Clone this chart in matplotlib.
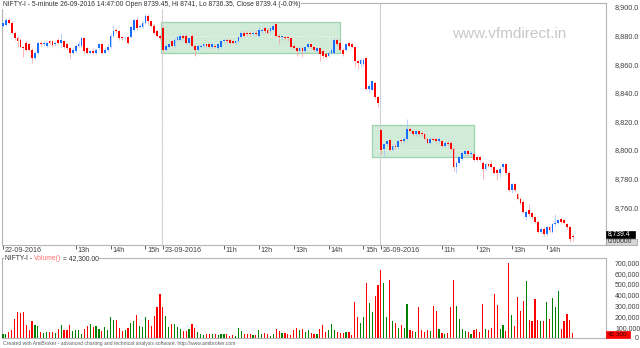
import matplotlib
matplotlib.use("Agg")
import matplotlib.pyplot as plt
from matplotlib.patches import Rectangle
import numpy as np
import pandas as pd

plt.rcParams["font.family"] = ["Liberation Sans", "DejaVu Sans"]

W, H, DPI = 640, 348, 100
BLUE, RED = "#1a6cff", "#ff0000"
WICK_UP, WICK_DN = "#9cbfff", "#ff9a9a"
VOL_UP, VOL_DN = "#008000", "#ff0000"
FRAME = "#b4b4b4"
TXT = "#404040"

# trading sessions: date, first bar, last bar (5-minute bars)
sessions = [("2016-09-22", "10:55", "15:25"),
            ("2016-09-23", "09:15", "15:25"),
            ("2016-09-26", "09:15", "14:45")]

opens = [
    8887, 8887.5, 8891, 8889, 8882, 8878, 8877, 8872, 8875, 8874, 8870, 8864, 8868, 8875, 8874, 8873, 8876, 8876, 8874,
    8877, 8875, 8876, 8874, 8871, 8868, 8869, 8873, 8873, 8878, 8871, 8868, 8869, 8868, 8871, 8874, 8868, 8870, 8872,
    8880, 8884, 8883, 8879, 8878, 8879, 8879, 8884, 8891, 8886, 8886, 8889, 8894, 8890, 8887, 8883, 8880,
    8885, 8870, 8872, 8876, 8873, 8877, 8877, 8880, 8880, 8875, 8880, 8873, 8870, 8872, 8873, 8874, 8874, 8872, 8873,
    8871, 8872, 8876, 8877, 8877, 8876, 8875, 8876, 8879, 8882, 8882, 8882, 8881, 8882, 8880, 8883, 8885, 8884, 8883,
    8884, 8888, 8880, 8879, 8879, 8879, 8878, 8873, 8871, 8869, 8871, 8869, 8872, 8874, 8872, 8869, 8871, 8869, 8867,
    8866, 8868, 8868, 8877, 8875, 8870, 8870, 8875, 8874, 8872, 8862, 8860, 8860, 8864, 8843, 8842, 8847, 8837,
    8814, 8801, 8804, 8807, 8800, 8803, 8802, 8807, 8806, 8808, 8815, 8813, 8811, 8813, 8812, 8811, 8808, 8805, 8808,
    8808, 8806, 8806, 8803, 8805, 8805, 8801, 8788, 8791, 8794, 8797, 8799, 8797, 8797, 8795, 8795, 8791, 8787, 8790,
    8790, 8788, 8786, 8784, 8788, 8790, 8784, 8772, 8776, 8769, 8766, 8764, 8753, 8758, 8756, 8753, 8750, 8743, 8745,
    8741, 8746, 8743, 8748, 8749, 8752, 8751, 8748, 8746, 8739.45,
]
highs = [
    8889, 8892, 8892, 8890, 8883, 8880, 8878, 8873, 8876, 8875, 8871, 8869, 8876, 8876, 8876, 8876, 8877, 8877, 8876,
    8878, 8882, 8877, 8875, 8872, 8871, 8874, 8876, 8879, 8879, 8872, 8870, 8871, 8871, 8875, 8875, 8871, 8874, 8881,
    8887, 8885, 8884, 8880, 8880, 8880, 8887, 8892, 8893, 8888, 8890, 8895, 8895, 8891, 8888, 8884, 8881,
    8887, 8874, 8875, 8877, 8878, 8880, 8881, 8881, 8881, 8879, 8881, 8874, 8874, 8874, 8875, 8875, 8875, 8875, 8874,
    8875, 8877, 8878, 8878, 8878, 8877, 8877, 8880, 8883, 8884, 8883, 8883, 8883, 8884, 8887, 8885, 8886, 8885, 8886,
    8888, 8889, 8881, 8880, 8880, 8880, 8879, 8874, 8872, 8872, 8872, 8873, 8875, 8875, 8873, 8872, 8872, 8870, 8868,
    8869, 8871, 8878, 8878, 8876, 8871, 8875, 8876, 8875, 8873, 8863, 8864, 8864, 8865, 8846, 8849, 8848, 8838,
    8815, 8805, 8807, 8808, 8804, 8804, 8807, 8808, 8809, 8822, 8816, 8814, 8814, 8814, 8813, 8812, 8809, 8809, 8809,
    8809, 8809, 8807, 8806, 8806, 8806, 8802, 8792, 8796, 8799, 8800, 8800, 8799, 8798, 8796, 8796, 8792, 8791, 8791,
    8793, 8789, 8787, 8788, 8791, 8791, 8785, 8777, 8777, 8770, 8767, 8765, 8758, 8762, 8757, 8754, 8751, 8746, 8746,
    8747, 8747, 8749, 8755, 8752, 8753, 8752, 8749, 8747, 8741,
]
lows = [
    8886, 8887, 8888, 8881, 8877, 8872, 8871, 8865, 8869, 8869, 8861, 8863, 8867, 8873, 8873, 8872, 8874, 8872, 8873,
    8874, 8871, 8871, 8870, 8864, 8867, 8868, 8872, 8872, 8868, 8867, 8867, 8867, 8867, 8870, 8867, 8867, 8869, 8871,
    8879, 8882, 8877, 8877, 8877, 8874, 8878, 8883, 8884, 8885, 8885, 8888, 8888, 8886, 8881, 8879, 8877,
    8868, 8869, 8871, 8872, 8872, 8876, 8876, 8877, 8874, 8874, 8872, 8866, 8869, 8871, 8872, 8872, 8871, 8871, 8871,
    8870, 8871, 8875, 8875, 8874, 8874, 8874, 8875, 8878, 8879, 8880, 8880, 8880, 8880, 8879, 8882, 8882, 8881, 8882,
    8883, 8879, 8874, 8877, 8877, 8876, 8871, 8870, 8866, 8868, 8865, 8868, 8871, 8871, 8869, 8868, 8862, 8864, 8864,
    8865, 8867, 8867, 8873, 8869, 8866, 8869, 8872, 8871, 8858, 8857, 8858, 8859, 8842, 8840, 8841, 8836, 8830,
    8797, 8796, 8803, 8799, 8799, 8801, 8801, 8805, 8805, 8807, 8812, 8810, 8810, 8810, 8810, 8807, 8804, 8804, 8806,
    8805, 8805, 8802, 8802, 8803, 8800, 8785, 8784, 8790, 8793, 8796, 8796, 8796, 8792, 8792, 8792, 8780, 8786, 8788,
    8787, 8783, 8779, 8781, 8787, 8783, 8771, 8770, 8771, 8765, 8762, 8756, 8751, 8754, 8752, 8749, 8742, 8742, 8740,
    8740, 8743, 8742, 8747, 8748, 8749, 8748, 8745, 8736, 8736.35,
]
closes = [
    8888.5, 8891, 8889, 8882, 8878, 8876, 8872, 8871, 8870, 8870, 8864, 8868, 8875, 8874, 8874.5, 8875, 8875, 8873.5, 8875,
    8875, 8877, 8872, 8871, 8868, 8870, 8873, 8874, 8878, 8869, 8868, 8869, 8868, 8870, 8874, 8868, 8870, 8872, 8880,
    8883, 8883, 8878, 8878, 8878.5, 8875, 8886, 8891, 8885, 8887, 8889, 8894, 8890, 8887, 8882, 8880, 8878,
    8870, 8873, 8874, 8873, 8877, 8879, 8880, 8878, 8875, 8878, 8873, 8870, 8873, 8873, 8874, 8873, 8872, 8874, 8872,
    8874, 8876, 8877, 8876, 8875, 8875, 8876, 8879, 8882, 8880, 8881, 8881, 8882, 8881, 8884, 8884, 8883, 8882, 8885,
    8887, 8880, 8879, 8879.5, 8878, 8878, 8872, 8871, 8869, 8871, 8869, 8872, 8874, 8872, 8870, 8871, 8867, 8866, 8865,
    8868, 8870, 8877, 8874, 8870, 8867, 8874, 8873, 8872, 8862, 8861, 8863, 8863, 8843, 8845, 8848, 8837, 8833,
    8800, 8804, 8806, 8800, 8803, 8802, 8806, 8806, 8808, 8815, 8813, 8811, 8813, 8811, 8811, 8808, 8805, 8808, 8807,
    8806, 8808, 8803, 8805, 8804, 8801, 8788, 8791, 8795, 8798, 8799, 8797, 8798, 8793, 8793, 8793, 8787, 8790, 8789,
    8788, 8784, 8784, 8787, 8790, 8784, 8772, 8776, 8772, 8766, 8763, 8757, 8757, 8755, 8753, 8750, 8743, 8745, 8741,
    8746, 8744, 8748, 8749, 8751, 8750, 8749, 8746, 8738, 8739.4,
]
volumes = [
    34000, 40000, 59000, 72000, 175000, 243000, 227000, 243000, 118000, 72000, 153000, 118000, 112000, 59000, 50000,
    59000, 59000, 59000, 50000, 81000, 118000, 72000, 72000, 118000, 65000, 72000, 78000, 40000, 81000, 109000,
    128000, 103000, 109000, 81000, 65000, 106000, 72000, 190000, 165000, 165000, 90000, 65000, 72000, 90000, 143000,
    159000, 215000, 112000, 103000, 190000, 168000, 112000, 206000, 283000, 408000,
    290000, 206000, 103000, 134000, 134000, 103000, 81000, 65000, 65000, 81000, 134000, 90000, 59000, 34000, 28000,
    34000, 34000, 40000, 34000, 28000, 40000, 34000, 40000, 19000, 28000, 19000, 90000, 65000, 34000, 34000,
    34000, 28000, 28000, 72000, 34000, 47000, 40000, 19000, 34000, 81000, 65000, 50000, 50000, 34000, 28000,
    72000, 97000, 72000, 81000, 59000, 72000, 47000, 40000, 40000, 81000, 121000, 59000, 72000, 128000, 72000,
    59000, 50000, 44000, 56000, 56000, 28000, 330000, 196000, 143000, 196000, 508000, 321000, 237000, 393000, 486000,
    626000, 511000, 190000, 533000, 153000, 140000, 97000, 118000, 90000, 315000, 72000, 65000, 59000, 283000, 72000,
    59000, 72000, 65000, 299000, 246000, 81000, 44000, 34000, 44000, 290000, 533000, 299000, 175000, 81000, 65000,
    59000, 40000, 72000, 81000, 59000, 315000, 81000, 72000, 90000, 408000, 308000, 81000, 121000, 65000, 695000,
    215000, 112000, 383000, 252000, 346000, 526000, 165000, 153000, 361000, 165000, 153000, 159000, 336000, 175000,
    371000, 283000, 433000, 81000, 153000, 221000, 168000, 42300,
]

# consolidation zones drawn on the chart (bar index span, price span)
zone_from = [54.35, 126.9]
zone_to = [115.9, 162.0]
zone_low = [8867.6, 8795.3]
zone_high = [8889.7, 8817.5]

price_ticks = [8760, 8780, 8800, 8820, 8840, 8860, 8880, 8900]
volume_ticks = [100000, 200000, 300000, 400000, 500000, 600000, 700000]

times = pd.DatetimeIndex(np.concatenate([
    pd.date_range(f"{d} {s}", f"{d} {e}", freq="5min").values for d, s, e in sessions]))
idx = np.arange(len(times))
o, h, l, c, v = map(np.asarray, (opens, highs, lows, closes, volumes))
up = c >= o

day_start = [i for i in idx if i == 0 or times[i].date() != times[i - 1].date()]
tick_pos, tick_txt = [], []
start = 0
for i in idx:
    if i in day_start:
        start = i
        tick_pos.append(i)
        tick_txt.append(times[i].strftime("%d-%m-%Y"))
    elif times[i].minute == 0 and i - start >= 15:
        tick_pos.append(i)
        tick_txt.append(f"{times[i].hour}h")


def px_rect(x0, y0, x1, y1):
    return [x0 / W, 1 - y1 / H, (x1 - x0) / W, (y1 - y0) / H]


def value_tag(x0, y0, x1, y1, text, fc, ec, tc, size=4.9):
    fig.add_artist(Rectangle((x0 / W, 1 - y1 / H), (x1 - x0) / W, (y1 - y0) / H,
                             transform=fig.transFigure, facecolor=fc, edgecolor=ec, linewidth=0.5, zorder=6))
    fig.text((x0 + 2) / W, 1 - (y0 + y1) / 2 / H, text, fontsize=size, color=tc,
             ha="left", va="center", zorder=7)


fig = plt.figure(figsize=(W / DPI, H / DPI), dpi=DPI)
fig.patch.set_facecolor("white")
ax = fig.add_axes(px_rect(2, 3, 606, 245))
axv = fig.add_axes(px_rect(2, 258, 606, 338))
xlim = (-1 / 2.907, 603 / 2.907)

for a in (ax, axv):
    for s in a.spines.values():
        s.set_color(FRAME)
        s.set_linewidth(0.8)
    a.set_xlim(*xlim)
    a.yaxis.tick_right()
    a.tick_params(axis="y", length=0, pad=6.5, labelsize=5.2, labelcolor=TXT)

# price pane
for x0, x1, lo, hi in zip(zone_from, zone_to, zone_low, zone_high):
    ax.add_patch(Rectangle((x0, lo), x1 - x0, hi - lo, facecolor="#d0ecd9",
                           edgecolor="#9dd2ad", linewidth=0.9, zorder=1))
for t in price_ticks:
    ax.axhline(t, color="white", lw=0.6, ls=(0, (1, 2.5)), zorder=1.5)
for d in day_start[1:]:
    ax.axvline(d - 0.3, color="#d2d2d2", lw=0.8, zorder=1.2)

ax.vlines(idx, l, h, colors=np.where(up, WICK_UP, WICK_DN), lw=0.5, zorder=2.5)
ax.bar(idx, np.maximum(np.abs(c - o), 0.35), bottom=np.minimum(o, c), width=0.62,
       color=np.where(up, BLUE, RED), linewidth=0, zorder=3)

ax.set_ylim(8733.6, 8902.8)
ax.set_yticks(price_ticks)
ax.set_yticklabels([f"{t:,.1f}" for t in price_ticks])
ax.set_xticks(tick_pos)
ax.set_xticklabels([])
ax.tick_params(axis="x", length=3, width=0.6, color=TXT, direction="out")
for p, s in zip(tick_pos, tick_txt):
    ax.annotate(s, xy=(p, 0), xycoords=("data", "axes fraction"), xytext=(1.3, -3.9),
                textcoords="offset points", fontsize=5.2, color=TXT, ha="left", va="center")

title = (f"NIFTY-I - 5-minute {times[-1].strftime('%d-%m-%Y')} 14:47:00 Open {o[-1]:g}, "
         f"Hi {h[-1]:g}, Lo {l[-1]:g}, Close {c[-1]:g} (-0.0%)")
fig.text(3 / W, 1 - 4.5 / H, title, fontsize=4.9, color="#303030", ha="left", va="center",
         bbox=dict(facecolor="white", edgecolor="none", pad=0.4), zorder=5)

fig.text(452 / W, 1 - 34 / H, "www.vfmdirect.in", fontsize=11, color="#c8c8c8", ha="left", va="center")

# last value tags on the right scale
value_tag(606, 230.5, 635, 237.5, f"{c[-1]:,.1f}", "black", "black", "white")
value_tag(606, 238.5, 637, 245, "0.00000", "#d6d6d6", "#9a9a9a", "#303030")

# volume pane
axv.bar(idx, v, width=0.4, color=np.where(up, VOL_UP, VOL_DN), linewidth=0, zorder=3)
axv.set_ylim(0, 740000)
axv.set_yticks(volume_ticks)
axv.set_yticklabels([f"{t:,}" for t in volume_ticks])
axv.tick_params(axis="y", labelsize=5.0)
axv.set_xticks([])

t1 = fig.text(5 / W, 1 - 259 / H, "NIFTY-I - ", fontsize=4.9, color="#303030",
              ha="left", va="center", bbox=dict(facecolor="white", edgecolor="none", pad=0.4), zorder=5)
t2 = axv.annotate("Volume()", xy=(1, 0.5), xycoords=t1, va="center", ha="left", fontsize=4.9,
                  color="#ff7070", bbox=dict(facecolor="white", edgecolor="none", pad=0.4), zorder=5)
axv.annotate(f" = {v[-1]:,.2f}", xy=(1, 0.5), xycoords=t2, va="center", ha="left", fontsize=4.9,
             color="#303030", bbox=dict(facecolor="white", edgecolor="none", pad=0.4), zorder=5)

value_tag(606, 330.5, 630, 337.5, f"{v[-1]:,.0f}", "#ff0000", "#ff0000", "#300000", size=4.6)
fig.text(635 / W, 1 - 338.5 / H, "0", fontsize=5.0, color=TXT, ha="left", va="center")

fig.text(3 / W, 1 - 343 / H, "Created with AmiBroker - advanced charting and technical analysis software. "
         "http://www.amibroker.com", fontsize=3.6, color="#606060", ha="left", va="center")

fig.savefig("out.png", dpi=DPI, facecolor="white")
